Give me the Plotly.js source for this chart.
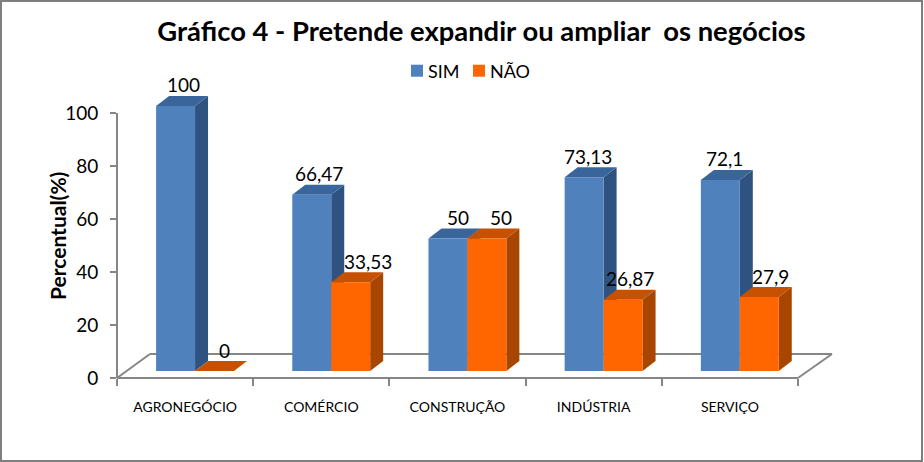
<!DOCTYPE html>
<html>
<head>
<meta charset="utf-8">
<script src="https://cdn.plot.ly/plotly-3.0.1.min.js"></script>
<style>html,body{margin:0;padding:0;background:#fff}#chart{width:924px;height:462px}</style>
</head>
<body>
<div id="chart"></div>
<script>
const categories = ["AGRONEGÓCIO", "COMÉRCIO", "CONSTRUÇÃO", "INDÚSTRIA", "SERVIÇO"];
const sim = [100, 66.47, 50, 73.13, 72.1];
const nao = [0, 33.53, 50, 26.87, 27.9];
const simLabels = ["100", "66,47", "50", "73,13", "72,1"];
const naoLabels = ["0", "33,53", "50", "26,87", "27,9"];
const yTicks = [0, 20, 40, 60, 80, 100];

const FONT = "Lato, Carlito, Calibri, sans-serif";
const GREY = "#868686";
const yTop = 109.8, xMax = 4.75;
const barW = 0.286, simOff = -0.213, naoOff = simOff + barW;
const depthX = 0.0955, depthY = 3.77, floorBase = 2.64;
const floorBackX = -0.258, floorBackY = 9.06;

const xp = v => (v + 0.5) / (xMax + 0.5);
const yp = v => v / yTop;
const line = (x0, y0, x1, y1) => ({type: "line", xref: "paper", yref: "paper", x0, y0, x1, y1, layer: "below",
  line: {color: GREY, width: 2}});

function faces(values, off, sideCol, topCol) {
  const out = [];
  values.forEach((v, i) => {
    const l = i + off, r = l + barW, b = floorBase, t = b + v;
    out.push({type: "path", xref: "x", yref: "y", layer: "below", line: {width: 0}, fillcolor: sideCol,
      path: `M${r},${b}L${r + depthX},${b + depthY}L${r + depthX},${t + depthY}L${r},${t}Z`});
    out.push({type: "path", xref: "x", yref: "y", layer: "below", line: {width: 0}, fillcolor: topCol,
      path: `M${l},${t}L${r},${t}L${r + depthX},${t + depthY}L${l + depthX},${t + depthY}Z`});
  });
  return out;
}

const shapes = [
  line(xp(floorBackX), yp(floorBackY), xp(xMax), yp(floorBackY)),
  line(xp(-0.5), 0, xp(floorBackX), yp(floorBackY)),
  line(xp(4.5), 0, xp(xMax), yp(floorBackY)),
  line(xp(-0.5), 0, xp(4.5), 0),
  line(xp(-0.5), 0, xp(-0.5), yp(100)),
  ...faces(sim, simOff, "#2F5380", "#3A659A"),
  ...faces(nao, naoOff, "#A84600", "#C65100"),
  {type: "rect", xref: "paper", yref: "paper", layer: "above", fillcolor: "rgba(0,0,0,0)",
   line: {color: "#7f7f7f", width: 2},
   x0: (1 - 117) / 715, x1: (922 - 117) / 715, y0: (378 - 461) / 291, y1: (378 - 1) / 291}
];

function labels(texts, values, off, nudge) {
  return texts.map((t, i) => ({
    text: t, x: i + off + barW / 2, y: floorBase + values[i] + depthY, xref: "x", yref: "y",
    xshift: nudge[i], yshift: 11, yanchor: "middle", xanchor: "center", showarrow: false,
    font: {family: FONT, size: 19, color: "#000"}
  }));
}

const common = {type: "bar", x: categories, base: floorBase, width: barW, hoverinfo: "x+y"};
const traces = [
  {...common, name: "SIM", y: sim, offset: simOff, marker: {color: "#4F81BD", line: {width: 0}}},
  {...common, name: "NÃO", y: nao, offset: naoOff, marker: {color: "#FF6600", line: {width: 0}}}
];

const layout = {
  width: 924, height: 462, autosize: false,
  margin: {l: 117, r: 92, t: 87, b: 84, pad: 0},
  paper_bgcolor: "#fff", plot_bgcolor: "rgba(0,0,0,0)",
  barmode: "overlay",
  title: {text: "Gráfico 4 - Pretende expandir ou ampliar\u00A0 os negócios",
    font: {family: FONT, size: 27.4, color: "#000", weight: 700},
    x: (481.5 - 117) / 715, xanchor: "center", xref: "paper", y: 1 - 31 / 462, yanchor: "middle"},
  xaxis: {type: "category", categoryorder: "array", categoryarray: categories,
    range: [-0.5, xMax], autorange: false, tickson: "boundaries",
    ticks: "outside", ticklen: 7, tickwidth: 2, tickcolor: GREY, showline: false, showgrid: false, zeroline: false,
    tickfont: {family: FONT, size: 14, color: "#000"}, tickangle: 0, ticklabelstandoff: 19},
  yaxis: {range: [0, yTop], autorange: false, tickvals: yTicks, ticktext: yTicks.map(String),
    ticks: "outside", ticklen: 6, tickwidth: 2, tickcolor: GREY, showline: false, showgrid: false, zeroline: false,
    tickfont: {family: FONT, size: 19, color: "#000"}, ticklabelstandoff: 8},
  showlegend: true,
  legend: {orientation: "h", x: 0.3916, xanchor: "left", y: 1.055, yanchor: "middle",
    entrywidth: 17, entrywidthmode: "pixels",
    font: {family: FONT, size: 18, color: "#000"}, bgcolor: "rgba(0,0,0,0)", traceorder: "normal"},
  shapes,
  annotations: [
    ...labels(simLabels, sim, simOff, [8, 7, 10, 4, 4]),
    ...labels(naoLabels, nao, naoOff, [10, 17, 14, 7, 11]),
    {text: "Percentual(%)", xref: "paper", yref: "paper", x: (57 - 117) / 715, y: (378 - 236) / 291,
     textangle: -90, showarrow: false, xanchor: "center", yanchor: "middle",
     font: {family: FONT, size: 21, color: "#000", weight: 700}}
  ]
};

Plotly.newPlot("chart", traces, layout, {displayModeBar: false, responsive: false}).then(gd => {
  // tighten the gap between each legend swatch and its text, and let the last entry run past the legend box
  gd.querySelectorAll(".legend .legendtext").forEach(t => {
    t.setAttribute("x", Number(t.getAttribute("x")) - 9);
  });
  gd.querySelectorAll(".legend [clip-path], .legend .scrollbox").forEach(el => el.removeAttribute("clip-path"));
  gd.querySelectorAll(".legend .traces").forEach(el => el.removeAttribute("clip-path"));
  gd.querySelectorAll(".legend").forEach(el => { el.style.clipPath = "none"; });
});
</script>
</body>
</html>
